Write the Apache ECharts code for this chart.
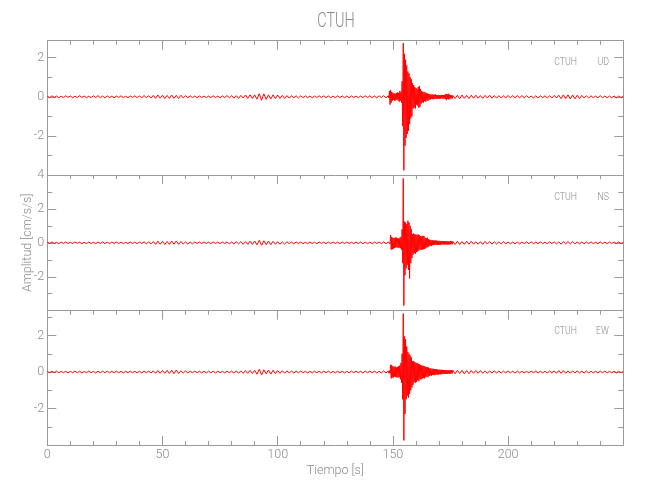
<!DOCTYPE html>
<html>
<head>
<meta charset="utf-8">
<script src="https://cdn.jsdelivr.net/npm/echarts@6/dist/echarts.min.js"></script>
<style>
html,body{margin:0;padding:0;background:#fff;}
#chart{width:650px;height:500px;}
</style>
</head>
<body>
<div id="chart"></div>
<script>
// ---- Data ----
const stationTitle = 'CTUH';
const components = ['UD', 'NS', 'EW'];
const xTickLabels = [0, 50, 100, 150, 200];
const yRangeMax = [2.87, 4, 3.36];
const yRangeMin = [-4, -4, -4];

// sampling grid: 1 s before the event, 0.25 s through the event, 1 s after
const tBefore = []; for (let t = 0; t <= 147; t += 1) tBefore.push(t);
const tEvent = []; for (let k = 0; k <= 112; k++) tEvent.push(148 + k * 0.25);
const tAfter = []; for (let t = 177; t <= 250; t += 1) tAfter.push(t);

// UD component (cm/s/s)
const udBefore = [
 0.03,-0.04,0.05,-0.03,0.04,-0.05,0.03,-0.04,0.05,-0.03,
 0.04,-0.05,0.03,-0.04,0.06,-0.03,0.04,-0.05,0.03,-0.04,
 0.05,-0.04,0.06,-0.05,0.04,-0.06,0.05,-0.04,0.03,-0.05,
 0.04,-0.03,0.05,-0.04,0.03,-0.05,0.04,-0.03,0.05,-0.04,
 0.04,-0.05,0.06,-0.04,0.05,-0.06,0.07,-0.08,0.09,-0.07,
 0.08,-0.09,0.07,-0.08,0.09,-0.08,0.07,-0.09,0.08,-0.06,
 0.06,-0.05,0.05,-0.04,0.04,-0.05,0.04,-0.03,0.04,-0.05,
 0.04,-0.04,0.05,-0.04,0.03,-0.05,0.05,-0.04,0.06,-0.05,
 0.06,-0.07,0.06,-0.08,0.07,-0.06,0.09,-0.08,0.1,-0.09,
 0.1,-0.12,0.16,-0.18,0.15,-0.13,0.1,-0.11,0.1,-0.09,
 0.09,-0.08,0.07,-0.08,0.06,-0.07,0.06,-0.05,0.05,-0.06,
 0.05,-0.04,0.05,-0.05,0.04,-0.05,0.04,-0.04,0.05,-0.04,
 0.05,-0.04,0.04,-0.05,0.04,-0.05,0.05,-0.04,0.04,-0.05,
 0.04,-0.05,0.05,-0.04,0.04,-0.05,0.04,-0.04,0.05,-0.04,
 0.05,-0.04,0.04,-0.05,0.05,-0.04,0.06,-0.05
];
const udEvent = [
 0.05,-0.06,0.3,-0.4,0.35,-0.3,0.25,-0.2,
 0.2,-0.15,0.18,-0.2,0.15,-0.18,0.2,-0.15,
 0.22,-0.18,0.2,-0.25,0.3,-0.2,0.25,-0.3,
 0.8,-1.5,2.75,-3.76,2.2,-2.5,1.9,-2.1,
 1.6,-1.9,1.3,-1.75,1.2,-1.4,1.0,-1.1,
 0.9,-1.0,0.7,-0.6,0.6,-0.55,0.5,-0.6,
 0.45,-0.4,0.4,-0.45,0.5,-0.56,0.55,-0.5,
 0.4,-0.35,0.3,-0.28,0.25,-0.3,0.25,-0.22,
 0.22,-0.25,0.2,-0.18,0.16,-0.2,0.15,-0.14,
 0.12,-0.14,0.12,-0.11,0.13,-0.12,0.1,-0.12,
 0.11,-0.1,0.12,-0.1,0.09,-0.11,0.1,-0.09,
 0.09,-0.1,0.08,-0.09,0.1,-0.08,0.09,-0.1,
 0.09,-0.08,0.1,-0.12,0.15,-0.17,0.14,-0.12,
 0.16,-0.14,0.12,-0.1,0.08,-0.09,0.07,-0.08,
 0.07
];
const udAfter = [
 -0.09,0.08,-0.1,0.09,-0.08,0.07,-0.09,0.08,-0.07,0.08,
 -0.07,0.06,-0.08,0.07,-0.06,0.08,-0.07,0.06,-0.07,0.06,
 -0.06,0.05,-0.06,0.07,-0.05,0.06,-0.05,0.06,-0.05,0.06,
 -0.05,0.06,-0.05,0.04,-0.06,0.05,-0.06,0.05,-0.04,0.05,
 -0.06,0.05,-0.06,0.07,-0.06,0.08,-0.09,0.1,-0.09,0.1,
 -0.11,0.09,-0.1,0.08,-0.09,0.07,-0.06,0.05,-0.06,0.05,
 -0.05,0.04,-0.05,0.06,-0.05,0.04,-0.05,0.04,-0.05,0.04,
 -0.05,0.04,-0.04,0.03
];

// NS component (cm/s/s)
const nsBefore = [
 0.04,-0.03,0.05,-0.04,0.03,-0.05,0.04,-0.03,0.05,-0.04,
 0.03,-0.04,0.05,-0.03,0.04,-0.05,0.03,-0.04,0.05,-0.04,
 0.04,-0.05,0.05,-0.04,0.06,-0.05,0.04,-0.05,0.04,-0.03,
 0.05,-0.04,0.04,-0.05,0.03,-0.04,0.05,-0.04,0.04,-0.05,
 0.05,-0.04,0.06,-0.05,0.05,-0.06,0.08,-0.09,0.1,-0.08,
 0.09,-0.1,0.08,-0.09,0.1,-0.08,0.11,-0.09,0.08,-0.07,
 0.06,-0.07,0.05,-0.06,0.05,-0.04,0.05,-0.04,0.05,-0.04,
 0.04,-0.05,0.05,-0.04,0.04,-0.05,0.05,-0.04,0.05,-0.06,
 0.05,-0.06,0.07,-0.06,0.07,-0.08,0.07,-0.09,0.1,-0.09,
 0.11,-0.12,0.15,-0.14,0.12,-0.11,0.1,-0.11,0.09,-0.08,
 0.07,-0.08,0.06,-0.07,0.06,-0.05,0.05,-0.06,0.05,-0.04,
 0.05,-0.05,0.04,-0.05,0.05,-0.04,0.04,-0.05,0.05,-0.04,
 0.04,-0.05,0.05,-0.04,0.05,-0.04,0.04,-0.05,0.05,-0.04,
 0.05,-0.04,0.04,-0.05,0.05,-0.04,0.05,-0.05,0.04,-0.05,
 0.04,-0.05,0.05,-0.04,0.05,-0.05,0.06,-0.05
];
const nsEvent = [
 0.05,-0.05,0.06,-0.07,0.45,-0.4,0.35,-0.38,
 0.3,-0.35,0.28,-0.3,0.32,-0.28,0.3,-0.25,
 0.28,-0.3,0.25,-0.28,0.3,-0.32,0.35,-0.4,
 0.8,-1.2,3.8,-3.7,1.25,-1.9,1.2,-1.5,
 1.1,-1.3,1.3,-1.6,1.2,-2.1,1.0,-1.2,
 0.8,-0.9,0.5,-0.7,0.55,-0.6,0.5,-0.65,
 0.5,-0.55,0.45,-0.5,0.5,-0.45,0.45,-0.4,
 0.4,-0.42,0.38,-0.4,0.42,-0.38,0.4,-0.36,
 0.3,-0.32,0.28,-0.26,0.3,-0.25,0.22,-0.2,
 0.18,-0.16,0.15,-0.18,0.16,-0.14,0.15,-0.13,
 0.14,-0.12,0.13,-0.12,0.14,-0.12,0.11,-0.12,
 0.12,-0.1,0.11,-0.12,0.1,-0.09,0.11,-0.1,
 0.09,-0.1,0.11,-0.09,0.1,-0.09,0.09,-0.1,
 0.09,-0.1,0.08,-0.09,0.1,-0.08,0.09,-0.08,
 0.09
];
const nsAfter = [
 -0.1,0.09,-0.1,0.08,-0.09,0.1,-0.08,0.09,-0.08,0.07,
 -0.08,0.07,-0.09,0.08,-0.07,0.08,-0.07,0.06,-0.07,0.06,
 -0.06,0.07,-0.06,0.05,-0.06,0.05,-0.06,0.05,-0.06,0.05,
 -0.05,0.06,-0.05,0.06,-0.05,0.04,-0.05,0.06,-0.05,0.04,
 -0.05,0.06,-0.05,0.06,-0.07,0.06,-0.08,0.07,-0.06,0.07,
 -0.06,0.07,-0.06,0.05,-0.06,0.05,-0.06,0.05,-0.05,0.06,
 -0.05,0.04,-0.05,0.06,-0.05,0.04,-0.05,0.05,-0.04,0.05,
 -0.04,0.05,-0.04,0.03
];

// EW component (cm/s/s)
const ewBefore = [
 0.03,-0.04,0.04,-0.03,0.05,-0.04,0.03,-0.04,0.04,-0.05,
 0.04,-0.03,0.05,-0.04,0.04,-0.05,0.03,-0.04,0.05,-0.04,
 0.04,-0.05,0.04,-0.04,0.05,-0.04,0.05,-0.05,0.04,-0.04,
 0.05,-0.04,0.04,-0.05,0.04,-0.04,0.05,-0.04,0.04,-0.05,
 0.04,-0.05,0.05,-0.04,0.05,-0.05,0.06,-0.07,0.08,-0.07,
 0.08,-0.07,0.09,-0.08,0.1,-0.09,0.11,-0.08,0.07,-0.06,
 0.06,-0.05,0.05,-0.04,0.05,-0.04,0.04,-0.05,0.04,-0.05,
 0.05,-0.04,0.04,-0.05,0.05,-0.04,0.04,-0.05,0.05,-0.04,
 0.05,-0.06,0.06,-0.07,0.06,-0.07,0.08,-0.07,0.09,-0.08,
 0.1,-0.12,0.15,-0.16,0.12,-0.1,0.11,-0.12,0.1,-0.09,
 0.08,-0.07,0.07,-0.06,0.06,-0.05,0.05,-0.06,0.05,-0.04,
 0.05,-0.04,0.04,-0.05,0.04,-0.05,0.05,-0.04,0.04,-0.05,
 0.05,-0.04,0.05,-0.05,0.04,-0.05,0.05,-0.04,0.04,-0.05,
 0.04,-0.05,0.05,-0.04,0.05,-0.04,0.04,-0.05,0.05,-0.04,
 0.05,-0.04,0.05,-0.05,0.04,-0.05,0.06,-0.05
];
const ewEvent = [
 0.05,-0.06,0.07,-0.08,0.4,-0.35,0.38,-0.3,
 0.32,-0.3,0.28,-0.25,0.3,-0.28,0.25,-0.3,
 0.28,-0.3,0.32,-0.28,0.35,-0.4,0.5,-0.6,
 1.0,-1.5,3.2,-3.75,1.95,-2.3,1.8,-1.5,
 1.4,-1.3,1.1,-1.4,1.0,-1.2,0.9,-1.0,
 0.8,-0.85,0.6,-0.7,0.6,-0.55,0.55,-0.6,
 0.5,-0.55,0.5,-0.45,0.45,-0.5,0.42,-0.4,
 0.38,-0.4,0.35,-0.36,0.35,-0.32,0.33,-0.35,
 0.3,-0.28,0.26,-0.25,0.27,-0.28,0.24,-0.22,
 0.2,-0.18,0.19,-0.2,0.18,-0.16,0.18,-0.17,
 0.16,-0.17,0.15,-0.14,0.15,-0.14,0.13,-0.14,
 0.13,-0.12,0.12,-0.13,0.12,-0.11,0.12,-0.11,
 0.11,-0.1,0.11,-0.1,0.1,-0.11,0.1,-0.09,
 0.1,-0.09,0.09,-0.1,0.09,-0.08,0.1,-0.08,
 0.09
];
const ewAfter = [
 -0.1,0.09,-0.08,0.09,-0.1,0.08,-0.09,0.08,-0.07,0.08,
 -0.07,0.08,-0.07,0.06,-0.07,0.06,-0.06,0.07,-0.06,0.05,
 -0.06,0.05,-0.05,0.06,-0.05,0.05,-0.06,0.05,-0.05,0.04,
 -0.05,0.04,-0.05,0.05,-0.04,0.05,-0.05,0.04,-0.05,0.04,
 -0.05,0.06,-0.05,0.06,-0.07,0.08,-0.07,0.08,-0.07,0.06,
 -0.07,0.06,-0.05,0.06,-0.05,0.04,-0.05,0.06,-0.05,0.04,
 -0.05,0.04,-0.05,0.05,-0.04,0.05,-0.05,0.04,-0.05,0.04,
 -0.05,0.04,-0.04,0.03
];

// ---- Build ----
const times = tBefore.concat(tEvent, tAfter);
const traces = [
  udBefore.concat(udEvent, udAfter),
  nsBefore.concat(nsEvent, nsAfter),
  ewBefore.concat(ewEvent, ewAfter)
];
function zip(vals) {
  const n = Math.min(times.length, vals.length);
  const out = [];
  for (let i = 0; i < n; i++) out.push([times[i], vals[i]]);
  return out;
}

const FONT = "Roboto, 'Liberation Sans', sans-serif";
const AX = '#9a9a9a';
const TX = '#8a8a8a';

const grids = [
  { left: 47.3, right: 26.7, top: 40.7, height: 134.3 },
  { left: 47.3, right: 26.7, top: 175, height: 135.7 },
  { left: 47.3, right: 26.7, top: 310.7, height: 134.3 }
];

const xAxes = [];
for (let i = 0; i < 3; i++) {
  xAxes.push({
    type: 'value', gridIndex: i, position: 'top', min: 0, max: 250, interval: 50,
    axisLine: { show: true, onZero: false, lineStyle: { color: AX, width: 1 } },
    axisTick: { show: true, inside: true, length: 9, lineStyle: { color: AX } },
    minorTick: { show: true, splitNumber: 5, length: 4, lineStyle: { color: AX } },
    axisLabel: { show: false }, splitLine: { show: false }
  });
}
xAxes.push({
  type: 'value', gridIndex: 2, position: 'bottom', min: 0, max: 250, interval: 50,
  name: 'Tiempo [s]', nameLocation: 'middle', nameGap: 19, nameMoveOverlap: false,
  nameTextStyle: { color: TX, fontSize: 12.5, fontFamily: FONT, fontWeight: 300 },
  axisLine: { show: true, onZero: false, lineStyle: { color: AX, width: 1 } },
  axisTick: { show: true, inside: true, length: 9, lineStyle: { color: AX } },
  minorTick: { show: true, splitNumber: 5, length: 4, lineStyle: { color: AX } },
  axisLabel: { show: true, margin: 3, color: TX, fontSize: 12.5, fontFamily: FONT, fontWeight: 300,
    showMaxLabel: false,
    formatter: v => (xTickLabels.indexOf(v) >= 0 ? String(v) : '') },
  splitLine: { show: false }
});

const yAxes = [];
for (let i = 0; i < 3; i++) {
  ['left', 'right'].forEach(pos => {
    const y = {
      type: 'value', gridIndex: i, position: pos,
      min: yRangeMin[i], max: yRangeMax[i], interval: 2,
      axisLine: { show: true, onZero: false, lineStyle: { color: AX, width: 1 } },
      axisTick: { show: true, inside: true, length: 9, lineStyle: { color: AX } },
      minorTick: { show: true, splitNumber: 2, length: 5, lineStyle: { color: AX } },
      splitLine: { show: false },
      axisLabel: {
        show: pos === 'left', margin: 3, color: TX, fontSize: 12.5, fontFamily: FONT, fontWeight: 300,
        showMinLabel: false, showMaxLabel: i === 1,
        formatter: v => (v % 2 === 0 ? String(v) : '')
      }
    };
    if (i === 1 && pos === 'left') {
      y.name = 'Amplitud [cm/s/s]';
      y.nameLocation = 'middle';
      y.nameGap = 13;
      y.nameMoveOverlap = false;
      y.nameTextStyle = { color: TX, fontSize: 12.5, fontFamily: FONT, fontWeight: 300 };
    }
    yAxes.push(y);
  });
}

const series = traces.map((vals, i) => ({
  type: 'line', xAxisIndex: i, yAxisIndex: i * 2,
  data: zip(vals), showSymbol: false, symbol: 'none',
  lineStyle: { color: '#ff0000', width: 1 }, z: 3, clip: true
}));

const labelY = [62, 197, 331];
const graphics = [
  { type: 'text', x: 336, y: 22, scaleX: 0.72, style: { text: stationTitle, fill: TX,
    font: '300 20px ' + FONT, textAlign: 'center', textVerticalAlign: 'middle' } }
];
components.forEach((c, i) => {
  graphics.push({ type: 'text', x: 577, y: labelY[i], scaleX: 0.8, style: { text: stationTitle, fill: TX,
    font: '300 11px ' + FONT, textAlign: 'right', textVerticalAlign: 'middle' } });
  graphics.push({ type: 'text', x: 609, y: labelY[i], scaleX: 0.8, style: { text: c, fill: TX,
    font: '300 11px ' + FONT, textAlign: 'right', textVerticalAlign: 'middle' } });
});

const chart = echarts.init(document.getElementById('chart'), null, { renderer: 'canvas' });
chart.setOption({
  backgroundColor: '#ffffff',
  animation: false,
  grid: grids,
  xAxis: xAxes,
  yAxis: yAxes,
  series: series,
  graphic: graphics
});
</script>
</body>
</html>
